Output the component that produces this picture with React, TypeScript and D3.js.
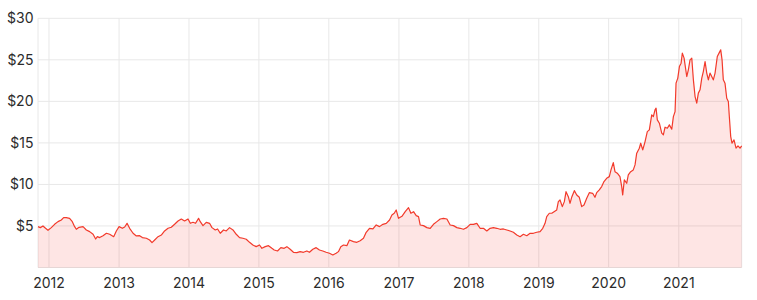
import React from "react";
import * as d3 from "d3";

// decimal-year sample positions and closing prices (USD)
const years: number[] = [
  2011.843, 2011.876, 2011.914, 2011.951, 2011.986, 2012.033, 2012.080, 2012.129, 2012.176, 2012.209,
  2012.247, 2012.294, 2012.333, 2012.366, 2012.390, 2012.429, 2012.486, 2012.533, 2012.580, 2012.629,
  2012.666, 2012.690, 2012.723, 2012.771, 2012.819, 2012.866, 2012.923, 2012.961, 2013.000, 2013.047,
  2013.080, 2013.114, 2013.151, 2013.200, 2013.247, 2013.294, 2013.333, 2013.390, 2013.437, 2013.471,
  2013.509, 2013.557, 2013.604, 2013.651, 2013.700, 2013.747, 2013.794, 2013.843, 2013.890, 2013.937,
  2013.986, 2014.019, 2014.057, 2014.094, 2014.137, 2014.161, 2014.200, 2014.247, 2014.294, 2014.329,
  2014.376, 2014.409, 2014.447, 2014.494, 2014.533, 2014.580, 2014.629, 2014.676, 2014.723, 2014.771,
  2014.819, 2014.866, 2014.914, 2014.961, 2015.009, 2015.043, 2015.090, 2015.137, 2015.186, 2015.219,
  2015.266, 2015.314, 2015.361, 2015.400, 2015.447, 2015.494, 2015.543, 2015.590, 2015.637, 2015.686,
  2015.723, 2015.771, 2015.819, 2015.866, 2015.914, 2015.961, 2016.009, 2016.057, 2016.104, 2016.137,
  2016.171, 2016.209, 2016.257, 2016.294, 2016.351, 2016.400, 2016.447, 2016.494, 2016.533, 2016.580,
  2016.629, 2016.676, 2016.723, 2016.771, 2016.819, 2016.866, 2016.900, 2016.933, 2016.961, 2016.994,
  2017.043, 2017.090, 2017.137, 2017.171, 2017.209, 2017.247, 2017.280, 2017.304, 2017.351, 2017.400,
  2017.447, 2017.494, 2017.543, 2017.590, 2017.637, 2017.686, 2017.733, 2017.780, 2017.829, 2017.876,
  2017.923, 2017.971, 2018.019, 2018.066, 2018.114, 2018.161, 2018.209, 2018.257, 2018.304, 2018.351,
  2018.400, 2018.447, 2018.494, 2018.543, 2018.590, 2018.637, 2018.686, 2018.733, 2018.780, 2018.829,
  2018.876, 2018.923, 2018.971, 2019.019, 2019.057, 2019.090, 2019.114, 2019.151, 2019.186, 2019.219,
  2019.257, 2019.280, 2019.304, 2019.337, 2019.366, 2019.390, 2019.423, 2019.447, 2019.471, 2019.509,
  2019.543, 2019.580, 2019.614, 2019.647, 2019.686, 2019.723, 2019.771, 2019.804, 2019.829, 2019.866,
  2019.900, 2019.933, 2019.971, 2020.009, 2020.033, 2020.066, 2020.090, 2020.123, 2020.161, 2020.186,
  2020.200, 2020.223, 2020.257, 2020.280, 2020.314, 2020.351, 2020.376, 2020.400, 2020.437, 2020.457,
  2020.486, 2020.519, 2020.551, 2020.580, 2020.614, 2020.637, 2020.661, 2020.676, 2020.694, 2020.723,
  2020.757, 2020.780, 2020.804, 2020.837, 2020.866, 2020.900, 2020.923, 2020.947, 2020.961, 2020.986,
  2021.009, 2021.033, 2021.051, 2021.076, 2021.090, 2021.114, 2021.137, 2021.161, 2021.186, 2021.209,
  2021.233, 2021.257, 2021.280, 2021.304, 2021.329, 2021.351, 2021.376, 2021.400, 2021.423, 2021.447,
  2021.471, 2021.494, 2021.519, 2021.551, 2021.576, 2021.600, 2021.619, 2021.637, 2021.661, 2021.686,
  2021.709, 2021.723, 2021.743, 2021.761, 2021.790, 2021.819, 2021.847, 2021.876, 2021.900,
];

const prices: number[] = [
  4.92, 4.80, 5.00, 4.72, 4.48, 4.80, 5.20, 5.52, 5.72, 6.00,
  6.00, 5.92, 5.52, 4.92, 4.60, 4.84, 4.92, 4.52, 4.32, 4.00,
  3.43, 3.71, 3.60, 3.83, 4.12, 4.00, 3.71, 4.40, 4.92, 4.72,
  4.88, 5.32, 4.72, 4.12, 3.80, 3.83, 3.60, 3.52, 3.31, 3.00,
  3.31, 3.71, 3.91, 4.40, 4.72, 4.84, 5.20, 5.60, 5.84, 5.60,
  5.84, 5.32, 5.44, 5.32, 5.92, 5.52, 5.04, 5.44, 5.32, 4.80,
  4.52, 4.64, 4.12, 4.52, 4.40, 4.80, 4.52, 4.00, 3.60, 3.52,
  3.40, 3.03, 2.71, 2.51, 2.71, 2.31, 2.51, 2.63, 2.31, 2.11,
  1.99, 2.39, 2.31, 2.51, 2.19, 1.83, 1.79, 1.91, 1.83, 1.99,
  1.83, 2.19, 2.39, 2.11, 1.99, 1.83, 1.71, 1.51, 1.71, 1.91,
  2.51, 2.71, 2.63, 3.31, 3.11, 3.03, 3.23, 3.51, 4.24, 4.72,
  4.64, 5.12, 4.92, 5.20, 5.32, 5.72, 6.33, 6.53, 6.93, 5.92,
  6.16, 6.72, 7.21, 6.53, 6.72, 6.24, 6.12, 5.12, 5.04, 4.80,
  4.72, 5.20, 5.52, 5.84, 5.92, 5.84, 5.12, 5.04, 4.80, 4.72,
  4.60, 4.80, 5.20, 5.20, 5.32, 4.72, 4.72, 4.40, 4.72, 4.80,
  4.72, 4.60, 4.64, 4.52, 4.40, 4.24, 3.92, 3.71, 4.00, 3.83,
  4.12, 4.12, 4.24, 4.32, 4.72, 5.32, 6.12, 6.53, 6.53, 6.72,
  6.93, 7.93, 8.13, 7.33, 7.93, 9.13, 8.53, 7.73, 8.45, 9.25,
  8.73, 8.45, 7.33, 7.53, 8.33, 9.01, 8.93, 8.45, 9.01, 9.34,
  9.74, 10.34, 10.74, 10.94, 11.75, 12.63, 11.54, 11.35, 10.94, 9.74,
  8.73, 10.54, 10.14, 11.14, 11.54, 11.75, 12.35, 13.76, 14.36, 14.96,
  14.16, 15.16, 16.36, 16.57, 18.37, 18.17, 18.98, 19.18, 17.77, 17.37,
  16.17, 15.96, 16.89, 16.77, 17.17, 16.65, 18.17, 18.77, 22.19, 22.80,
  24.19, 24.60, 25.81, 25.20, 24.40, 22.99, 23.80, 25.00, 25.20, 22.59,
  20.58, 19.78, 20.99, 21.39, 22.80, 23.59, 24.80, 23.40, 22.59, 23.40,
  22.99, 22.59, 23.40, 25.40, 25.81, 26.20, 25.00, 22.59, 22.19, 20.38,
  19.98, 18.17, 15.76, 14.96, 15.36, 14.36, 14.64, 14.36, 14.64,
];

const yTicks: number[] = [5, 10, 15, 20, 25, 30];
const xTickYears: number[] = [2012, 2013, 2014, 2015, 2016, 2017, 2018, 2019, 2020, 2021];
const domainStart = 2011.843;
const domainEnd = 2021.9;

function toDate(y: number): Date {
  const yr = Math.floor(y);
  const s = Date.UTC(yr, 0, 1);
  const e = Date.UTC(yr + 1, 0, 1);
  return new Date(s + (y - yr) * (e - s));
}

const W = 757;
const H = 300;
const M = { left: 38, right: 15.3, top: 18.3, bottom: 32.5 };

export default function App() {
  const data = years.map((y, i) => ({ date: toDate(y), v: prices[i] }));
  const x = d3
    .scaleUtc()
    .domain([toDate(domainStart), toDate(domainEnd)])
    .range([M.left, W - M.right]);
  const y = d3.scaleLinear().domain([0, 30]).range([H - M.bottom, M.top]);

  const line = d3
    .line<{ date: Date; v: number }>()
    .x((d) => x(d.date))
    .y((d) => y(d.v));
  const area = d3
    .area<{ date: Date; v: number }>()
    .x((d) => x(d.date))
    .y0(y(0))
    .y1((d) => y(d.v));

  const font = "Inter, 'Noto Sans', sans-serif";
  const grid = "#e8e8e8";

  return (
    <svg
      width={W}
      height={H}
      style={{ position: "absolute", left: 0, top: 0, display: "block" }}
    >
      <rect width={W} height={H} fill="#fff" />
      {yTicks.map((t) => (
        <line key={"hy" + t} x1={M.left} x2={W - M.right} y1={y(t)} y2={y(t)} stroke={grid} strokeWidth={1} />
      ))}
      {xTickYears.map((t) => (
        <line
          key={"vx" + t}
          x1={x(toDate(t))}
          x2={x(toDate(t))}
          y1={M.top}
          y2={y(0)}
          stroke={grid}
          strokeWidth={1}
        />
      ))}
      <line x1={M.left} x2={M.left} y1={M.top} y2={y(0)} stroke={grid} />
      <line x1={W - M.right} x2={W - M.right} y1={M.top} y2={y(0)} stroke={grid} />
      <path d={area(data) || ""} fill="#f7392b" fillOpacity={0.13} />
      <line x1={M.left} x2={W - M.right} y1={y(0)} y2={y(0)} stroke="#e6d6d5" strokeWidth={1} />
      <path d={line(data) || ""} fill="none" stroke="#f23a2b" strokeWidth={1.2} strokeLinejoin="round" />
      {yTicks.map((t) => (
        <text
          key={"ly" + t}
          x={33.5}
          y={y(t)}
          dy="0.36em"
          textAnchor="end"
          fontFamily={font}
          fontSize={14}
          fill="#2b2b2b"
        >
          {"$" + t}
        </text>
      ))}
      {xTickYears.map((t) => (
        <text
          key={"lx" + t}
          x={x(toDate(t))}
          y={288}
          textAnchor="middle"
          fontFamily={font}
          fontSize={14}
          fill="#2b2b2b"
        >
          {t}
        </text>
      ))}
    </svg>
  );
}
